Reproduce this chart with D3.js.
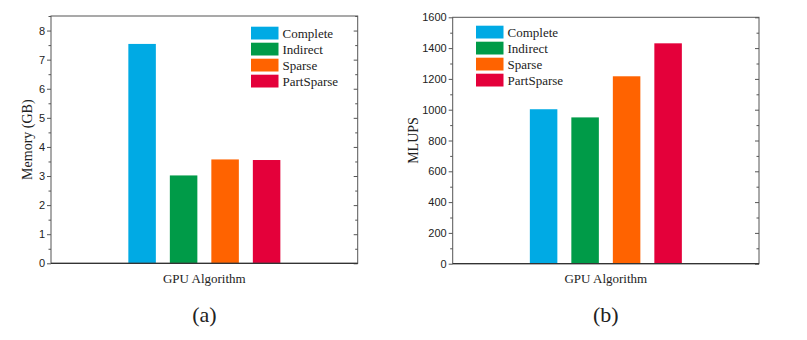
<!DOCTYPE html>
<html>
<head>
<meta charset="utf-8">
<script src="https://cdn.jsdelivr.net/npm/d3@7"></script>
<style>
  body { margin: 0; background: #fff; }
  svg { display: block; }
</style>
</head>
<body>
<div id="chart"></div>
<script>
// Data
const algorithms = ["Complete", "Indirect", "Sparse", "PartSparse"];
const barColors = ["#00aae4", "#009b48", "#ff6300", "#e4003a"];
const memoryValues = [7.54, 3.02, 3.57, 3.55];
const mlupsValues = [1003, 950, 1217, 1431];
const memoryTicks = [0, 1, 2, 3, 4, 5, 6, 7, 8];
const mlupsTicks = [0, 200, 400, 600, 800, 1000, 1200, 1400, 1600];

const svg = d3.select("#chart")
  .append("svg")
    .attr("width", 807)
    .attr("height", 340);

svg.append("rect").attr("width", 807).attr("height", 340).attr("fill", "#fff");

const serif = "'Liberation Serif', 'Times New Roman', serif";
const sans = "'Liberation Sans', Arial, sans-serif";
const frameColor = "#555";

function drawPanel(p) {
  const w = p.width, h = p.height;
  const g = svg.append("g").attr("transform", `translate(${p.left}, ${p.top})`);

  const y = d3.scaleLinear().domain(p.domain).range([h, 0]);
  const step = 41.5;
  const x = d3.scaleBand()
    .domain(algorithms)
    .range([w / 2 - 2 * step, w / 2 + 2 * step])
    .paddingInner(0.337)
    .paddingOuter(0.1685);

  // bars
  g.append("g")
    .selectAll("rect")
    .data(algorithms.map((a, i) => ({name: a, value: p.values[i], color: barColors[i]})))
    .join("rect")
      .attr("x", d => x(d.name))
      .attr("width", x.bandwidth())
      .attr("y", d => y(d.value))
      .attr("height", d => h - y(d.value))
      .attr("fill", d => d.color);

  // minor tick values
  const minor = d3.range(p.domain[0], p.domain[1] + 1e-9, p.minorStep)
    .filter(v => !p.ticks.includes(v));

  // left axis, ticks outward
  const left = g.append("g")
    .call(d3.axisLeft(y).tickValues(p.ticks).tickSize(4).tickPadding(2).tickFormat(d3.format("d")));
  left.select(".domain").remove();
  left.selectAll("line").attr("stroke", frameColor);
  left.selectAll("text")
    .attr("fill", "#222")
    .style("font-family", sans)
    .style("font-size", "11px");
  g.append("g")
    .call(d3.axisLeft(y).tickValues(minor).tickSize(2.5).tickFormat(""))
    .call(s => s.select(".domain").remove())
    .selectAll("line").attr("stroke", frameColor);

  // right axis, ticks pointing inward
  g.append("g")
    .attr("transform", `translate(${w}, 0)`)
    .call(d3.axisLeft(y).tickValues(p.ticks).tickSize(4).tickFormat(""))
    .call(s => s.select(".domain").remove())
    .selectAll("line").attr("stroke", frameColor);
  g.append("g")
    .attr("transform", `translate(${w}, 0)`)
    .call(d3.axisLeft(y).tickValues(minor).tickSize(2.5).tickFormat(""))
    .call(s => s.select(".domain").remove())
    .selectAll("line").attr("stroke", frameColor);

  // frame
  g.append("rect")
    .attr("width", w)
    .attr("height", h)
    .attr("fill", "none")
    .attr("stroke", frameColor)
    .attr("stroke-width", 1);
  g.append("line")
    .attr("x1", 0).attr("x2", w)
    .attr("y1", h).attr("y2", h)
    .attr("stroke", "#333")
    .attr("stroke-width", 1.2);

  // legend
  const legend = g.append("g")
    .attr("transform", `translate(${p.legendX}, ${p.legendY})`);
  const rows = legend.selectAll("g")
    .data(algorithms)
    .join("g")
      .attr("transform", (d, i) => `translate(0, ${i * 16})`);
  rows.append("rect")
    .attr("width", 27.5)
    .attr("height", 12.8)
    .attr("fill", (d, i) => barColors[i]);
  rows.append("text")
    .attr("x", 31.5)
    .attr("y", 6.4)
    .attr("dy", "0.35em")
    .style("font-family", serif)
    .style("font-size", "13px")
    .attr("fill", "#222")
    .text(d => d);

  // axis titles
  g.append("text")
    .attr("transform", `translate(${p.yLabelX}, ${h / 2}) rotate(-90)`)
    .attr("text-anchor", "middle")
    .attr("dy", "0.35em")
    .style("font-family", serif)
    .style("font-size", "14px")
    .attr("fill", "#222")
    .text(p.yLabel);
  g.append("text")
    .attr("x", w / 2)
    .attr("y", h + 15)
    .attr("text-anchor", "middle")
    .attr("dy", "0.35em")
    .style("font-family", serif)
    .style("font-size", "13px")
    .attr("fill", "#222")
    .text("GPU Algorithm");
  g.append("text")
    .attr("x", w / 2)
    .attr("y", h + 51)
    .attr("text-anchor", "middle")
    .attr("dy", "0.35em")
    .style("font-family", serif)
    .style("font-size", "22px")
    .attr("fill", "#222")
    .text(p.caption);
}

drawPanel({
  left: 51, top: 16, width: 306.7, height: 247.3,
  domain: [0, 8.5], ticks: memoryTicks, minorStep: 0.5,
  values: memoryValues,
  yLabel: "Memory (GB)", yLabelX: -24,
  legendX: 200, legendY: 10.7,
  caption: "(a)"
});

drawPanel({
  left: 452.7, top: 17.3, width: 306.3, height: 246.4,
  domain: [0, 1600], ticks: mlupsTicks, minorStep: 100,
  values: mlupsValues,
  yLabel: "MLUPS", yLabelX: -40,
  legendX: 23.3, legendY: 8.4,
  caption: "(b)"
});
</script>
</body>
</html>
